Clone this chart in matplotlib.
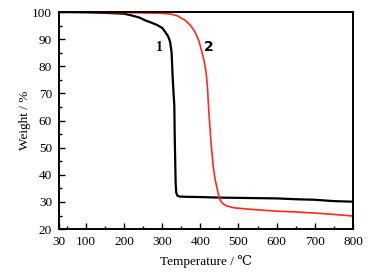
import matplotlib
matplotlib.use("Agg")
import matplotlib.pyplot as plt
from matplotlib.ticker import MultipleLocator, FixedLocator

plt.rcParams['font.family'] = ['Liberation Serif', 'DejaVu Serif', 'DejaVu Sans']
plt.rcParams['mathtext.fontset'] = 'stix'

# Curve 1 (black)
t1 = [30, 100, 150, 200, 216, 240, 255, 270, 286, 300, 308, 316, 321, 325, 327, 330, 332, 333, 334.5, 335.5, 337, 340, 346, 360, 400, 450, 500, 550, 600, 650, 700, 750, 800]
w1 = [100, 99.9, 99.7, 99.4, 98.9, 98.0, 97.0, 96.2, 95.3, 94.2, 92.7, 91.0, 89.0, 85.0, 78.0, 70.0, 65.7, 55.0, 44.0, 37.0, 33.5, 32.3, 32.0, 31.9, 31.8, 31.6, 31.5, 31.4, 31.3, 31.0, 30.8, 30.3, 30.1]

# Curve 2 (red)
t2 = [30, 100, 200, 280, 300, 321, 340, 360, 375, 386, 396, 404, 410, 415, 419, 421, 424, 428, 434, 438, 443, 448, 452, 458, 469, 490, 530, 600, 650, 700, 750, 800]
w2 = [100, 99.9, 99.8, 99.6, 99.5, 99.3, 98.6, 97.0, 95.0, 92.7, 89.5, 85.4, 82.0, 78.0, 72.0, 66.5, 60.0, 52.0, 43.0, 39.0, 35.6, 32.5, 30.7, 29.5, 28.5, 27.8, 27.3, 26.6, 26.3, 25.9, 25.4, 24.8]

xticks = [30, 100, 200, 300, 400, 500, 600, 700, 800]
yticks = [20, 30, 40, 50, 60, 70, 80, 90, 100]

fig = plt.figure(figsize=(3.78, 2.74), dpi=100)
ax = fig.add_axes([0.156, 0.164, 0.778, 0.792])
ax.plot(t1, w1, color='black', lw=1.6)
ax.plot(t2, w2, color='#ff2a1a', lw=1.2)

ax.set_xlim(30, 800)
ax.set_ylim(20, 100)
ax.xaxis.set_major_locator(FixedLocator(xticks))
ax.xaxis.set_minor_locator(FixedLocator([50, 150, 250, 350, 450, 550, 650, 750]))
ax.yaxis.set_major_locator(FixedLocator(yticks))
ax.yaxis.set_minor_locator(MultipleLocator(5))
ax.tick_params(which='both', direction='in', top=False, right=False, labelsize=9.5, width=1)
ax.tick_params(which='major', length=4, pad=5)
ax.tick_params(which='minor', length=2.5)
for s in ax.spines.values():
    s.set_linewidth(1.4)

ax.set_xlabel('Temperature / ℃', fontsize=9.5, labelpad=5)
ax.set_ylabel('Weight / %', fontsize=9.5, labelpad=1)

ax.text(294, 86.8, '1', fontsize=10, fontweight='bold', ha='center', va='center')
ax.text(421, 87.0, '2', fontsize=10, fontweight='bold', ha='center', va='center', family='DejaVu Sans')

fig.savefig('out.png', dpi=100)
